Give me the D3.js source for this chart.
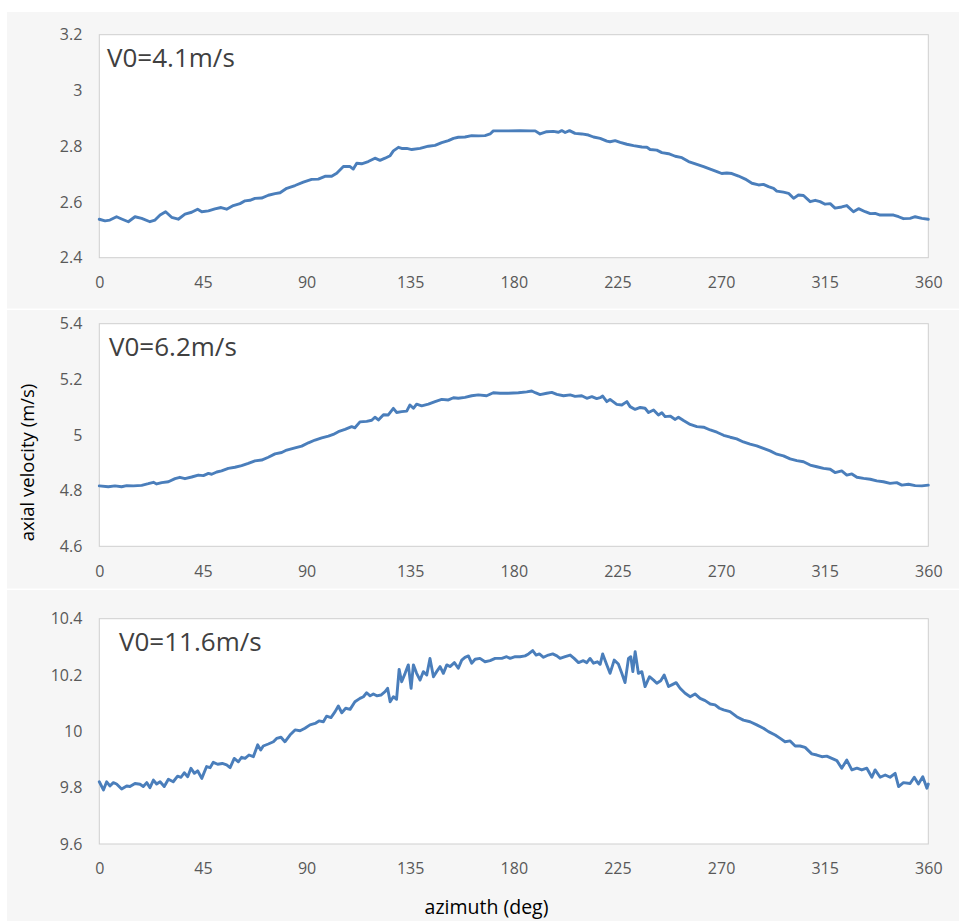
<!DOCTYPE html>
<html>
<head>
<meta charset="utf-8">
<script src="https://cdn.jsdelivr.net/npm/d3@7"></script>
<style>
  html, body { margin: 0; padding: 0; background: #ffffff; }
  svg { display: block; }
</style>
</head>
<body>
<svg id="chart" width="959" height="921"></svg>
<script>
// ---------------- data ----------------
const xTicks = [0, 45, 90, 135, 180, 225, 270, 315, 360];
const yTicks1 = [2.4, 2.6, 2.8, 3.0, 3.2];
const yTicks2 = [4.6, 4.8, 5.0, 5.2, 5.4];
const yTicks3 = [9.6, 9.8, 10.0, 10.2, 10.4];
const labels = ["V0=4.1m/s", "V0=6.2m/s", "V0=11.6m/s"];
const xTitle = "azimuth (deg)";
const yTitle = "axial velocity (m/s)";

// [azimuth (deg), axial velocity (m/s)]
const series1 = [[0,2.538],[2.5,2.532],[4.6,2.535],[7.5,2.547],[9.7,2.539],[12.6,2.529],[15.5,2.547],[18.4,2.541],[22,2.529],[24.2,2.535],[26.4,2.553],[28.8,2.565],[31.4,2.545],[34.3,2.538],[37.2,2.556],[40.1,2.563],[42.7,2.574],[44.5,2.565],[47.4,2.568],[50.2,2.575],[52.9,2.58],[55.3,2.574],[58.2,2.587],[61.1,2.594],[63.3,2.604],[65.4,2.606],[67.6,2.613],[70.5,2.614],[73.4,2.624],[76.3,2.63],[78.5,2.633],[81.4,2.649],[85,2.659],[88.6,2.671],[92.2,2.681],[95.1,2.682],[98,2.692],[100.9,2.692],[103.1,2.703],[106,2.727],[108.9,2.727],[110.3,2.718],[111.8,2.739],[113.9,2.737],[116.8,2.745],[119.7,2.757],[121.9,2.749],[124.1,2.757],[126.3,2.766],[127.7,2.783],[129.9,2.796],[131.3,2.792],[133.5,2.792],[135.7,2.788],[139.3,2.792],[142.9,2.8],[145.8,2.803],[148.7,2.813],[151.6,2.82],[153.8,2.828],[155.9,2.832],[158.8,2.833],[161.7,2.838],[164.6,2.837],[167.5,2.838],[169.7,2.844],[171.1,2.855],[174,2.855],[177.6,2.855],[182.7,2.856],[187.1,2.855],[189.3,2.855],[191.4,2.844],[194.3,2.852],[197.2,2.853],[199.4,2.85],[200.8,2.856],[202.3,2.849],[204.2,2.856],[206.6,2.846],[209.5,2.844],[212.4,2.84],[214.6,2.833],[217.5,2.828],[220.4,2.818],[221.8,2.816],[224,2.82],[226.2,2.814],[229.1,2.807],[232,2.802],[235.6,2.797],[237.8,2.796],[239.2,2.788],[242.1,2.786],[244.3,2.777],[247.2,2.773],[250.1,2.764],[253,2.759],[255.9,2.745],[259.5,2.735],[262.4,2.727],[265.3,2.718],[268.2,2.709],[270.3,2.702],[272.5,2.704],[274.7,2.702],[277.6,2.693],[280.5,2.682],[283.4,2.667],[286.3,2.661],[288.4,2.663],[290.6,2.655],[292.8,2.649],[294.2,2.639],[297.1,2.635],[299.3,2.631],[301.5,2.613],[303.6,2.625],[305.8,2.623],[308.7,2.601],[310.9,2.606],[313,2.601],[315.2,2.592],[317.4,2.594],[319.5,2.578],[322.4,2.582],[324.6,2.587],[327.5,2.565],[329.7,2.576],[332.6,2.565],[334.8,2.558],[336.9,2.559],[339.1,2.553],[342,2.553],[344.9,2.553],[347.1,2.547],[349.2,2.54],[352.1,2.541],[354.3,2.547],[357.2,2.541],[360,2.538]];

const series2 = [[0,4.817],[3.9,4.814],[6.8,4.817],[9.7,4.814],[11.9,4.818],[14.8,4.817],[18.4,4.819],[21.3,4.825],[23.5,4.83],[24.9,4.824],[27.1,4.829],[30,4.832],[32.9,4.843],[35,4.848],[37.2,4.843],[40.1,4.849],[43,4.856],[45.2,4.854],[47.4,4.862],[48.8,4.859],[51,4.867],[53.1,4.871],[56,4.88],[58.9,4.884],[61.8,4.89],[64.7,4.898],[67.6,4.907],[70.5,4.91],[73.4,4.92],[76.3,4.932],[79.2,4.937],[81.4,4.946],[85,4.954],[87.9,4.96],[90.8,4.972],[93.7,4.982],[96.6,4.99],[99.5,4.996],[101.6,5.002],[103.8,5.012],[106.7,5.02],[109.6,5.03],[111,5.026],[113.2,5.047],[116.1,5.049],[118.3,5.053],[119.7,5.064],[121.2,5.054],[123.4,5.073],[125.5,5.072],[127.7,5.096],[129.1,5.081],[131.3,5.084],[133.5,5.086],[134.9,5.108],[136.4,5.096],[137.8,5.111],[140,5.105],[142.9,5.111],[145.8,5.12],[148.7,5.128],[151.6,5.126],[153.8,5.134],[155.9,5.132],[158.8,5.135],[161.7,5.141],[164.6,5.144],[168.2,5.141],[171.1,5.152],[174,5.15],[177.6,5.15],[182,5.152],[185.6,5.155],[187.8,5.158],[189.3,5.152],[191.4,5.145],[194.3,5.15],[196.5,5.153],[198.7,5.146],[201.6,5.141],[204.5,5.144],[206.6,5.139],[209.5,5.141],[211.7,5.132],[213.9,5.138],[216,5.131],[217.5,5.134],[218.6,5.14],[220.4,5.12],[221.8,5.128],[224.7,5.11],[226.9,5.108],[229.1,5.12],[230.5,5.102],[232.7,5.092],[234.9,5.099],[237,5.096],[238.5,5.081],[240.7,5.09],[242.8,5.072],[244.3,5.08],[245.7,5.066],[247.9,5.068],[250.1,5.056],[251.5,5.064],[253.7,5.052],[256.6,5.038],[259.5,5.03],[262.4,5.028],[265.3,5.018],[268.2,5.01],[271.1,4.999],[274,4.992],[276.8,4.986],[279.7,4.975],[282.6,4.967],[285.5,4.961],[288.4,4.952],[291.3,4.943],[294.2,4.931],[297.1,4.925],[300,4.914],[302.9,4.908],[305.8,4.904],[308.7,4.892],[311.6,4.886],[314.5,4.88],[317.4,4.877],[319.5,4.865],[322.4,4.871],[324.6,4.856],[326.8,4.86],[329,4.848],[331.9,4.844],[334.8,4.841],[337.6,4.835],[340.5,4.832],[343.4,4.826],[346.3,4.829],[348.5,4.82],[351.4,4.823],[354.3,4.818],[357.2,4.817],[360,4.82]];

const series3 = [[0,9.821],[1.8,9.792],[3.2,9.821],[4.6,9.806],[6.1,9.818],[7.5,9.813],[9.7,9.795],[11.9,9.806],[13.3,9.804],[15.5,9.815],[17.7,9.812],[19.1,9.804],[20.6,9.818],[22,9.8],[23.5,9.827],[24.9,9.813],[26.4,9.821],[28.2,9.804],[30,9.83],[32.1,9.821],[34,9.841],[35.5,9.837],[36.9,9.853],[38.4,9.839],[39.8,9.869],[41.3,9.851],[42.7,9.86],[44.5,9.833],[46.6,9.875],[48.1,9.871],[49.5,9.89],[51.4,9.883],[53.4,9.886],[55.3,9.881],[56.8,9.871],[58.6,9.904],[60.4,9.892],[61.8,9.908],[63.3,9.904],[65,9.916],[66.9,9.91],[68.8,9.952],[70.1,9.934],[71.2,9.948],[73.4,9.955],[75.6,9.963],[77,9.975],[78.9,9.979],[80.6,9.963],[82.8,9.987],[85,10.005],[87.2,10.002],[89.3,10.011],[91.5,10.023],[93.7,10.028],[95.4,10.037],[97.3,10.034],[98.7,10.054],[100.6,10.049],[102.4,10.07],[103.8,10.09],[105.3,10.066],[107,10.082],[108.9,10.078],[111,10.105],[113.2,10.117],[114.7,10.123],[116.1,10.137],[117.6,10.126],[119,10.133],[120.5,10.126],[122.3,10.129],[124.1,10.141],[125.2,10.153],[126.3,10.105],[127.7,10.123],[129.1,10.114],[130.2,10.22],[131.3,10.176],[132.8,10.206],[134.2,10.236],[135.4,10.153],[136.4,10.236],[137.8,10.206],[139.3,10.182],[140.7,10.212],[142.2,10.2],[143.6,10.259],[145.1,10.194],[146.5,10.212],[148,10.23],[149.4,10.206],[150.9,10.236],[152.3,10.23],[154.2,10.244],[155.9,10.224],[157.4,10.253],[158.8,10.263],[160.3,10.268],[161.7,10.242],[163.2,10.256],[165.3,10.259],[167.5,10.247],[169.7,10.251],[171.9,10.259],[174.8,10.259],[176.9,10.265],[178.4,10.259],[180.6,10.265],[182.7,10.265],[184.9,10.268],[186.4,10.275],[188.2,10.287],[189.7,10.271],[191.1,10.275],[192.9,10.263],[195,10.271],[196.9,10.275],[198.7,10.268],[200.1,10.259],[202.3,10.265],[204.5,10.271],[206.2,10.259],[208.1,10.244],[210.2,10.251],[211.7,10.244],[213.1,10.259],[214.6,10.242],[216.3,10.247],[217.5,10.238],[218.6,10.275],[220.4,10.236],[221.8,10.206],[223.6,10.253],[225.4,10.239],[226.9,10.206],[228.3,10.173],[229.8,10.259],[230.8,10.265],[231.7,10.212],[232.7,10.283],[234.1,10.206],[235.6,10.212],[237,10.159],[238.9,10.194],[240.7,10.182],[242.1,10.171],[243.8,10.18],[245.3,10.2],[247.2,10.159],[248.6,10.165],[250.5,10.173],[252.2,10.153],[254.4,10.135],[256.6,10.123],[258.7,10.133],[260.9,10.117],[263.1,10.109],[265.3,10.097],[267.4,10.094],[269.3,10.082],[271.1,10.076],[273.9,10.07],[276.8,10.052],[279.7,10.04],[282.6,10.034],[285.5,10.023],[288.4,10.011],[290.6,9.999],[293.5,9.987],[295.7,9.975],[297.8,9.963],[300,9.966],[302.2,9.948],[304.3,9.948],[306.5,9.943],[309.4,9.92],[311.6,9.916],[313.8,9.91],[315.9,9.912],[318.1,9.904],[320.3,9.896],[322.4,9.869],[324.6,9.898],[326.8,9.863],[329,9.869],[331.1,9.863],[333.3,9.869],[335.5,9.837],[336.9,9.863],[339.1,9.837],[341.3,9.845],[343.4,9.837],[345.6,9.851],[347.1,9.804],[349.2,9.818],[352.1,9.815],[353.9,9.837],[355.7,9.813],[357.6,9.839],[359.4,9.798],[360,9.813]];

// ---------------- layout ----------------
const svg = d3.select("#chart");
const FONT = "'Open Sans', 'Noto Sans', sans-serif";
const LINE_COLOR = "#4a7ebb";
const TICK_COLOR = "#595959";

const panels = [
  { data: series1, ticks: yTicks1, label: labels[0], bg: [12, 308.5],  top: 34.7,  bottom: 257.7, lx: 107, ly: 66.7 },
  { data: series2, ticks: yTicks2, label: labels[1], bg: [310, 588.5], top: 323.7, bottom: 546.3, lx: 109, ly: 356 },
  { data: series3, ticks: yTicks3, label: labels[2], bg: [590, 921], top: 618.7, bottom: 844,   lx: 119, ly: 651 }
];
const plotLeft = 99.3, plotRight = 928.3;

const x = d3.scaleLinear().domain([0, 360]).range([plotLeft, plotRight]);
const fmt = d => String(+(+d).toFixed(1));

panels.forEach(p => {
  // chart area background
  svg.append("rect")
    .attr("x", 7).attr("y", p.bg[0])
    .attr("width", 959 - 7).attr("height", p.bg[1] - p.bg[0])
    .attr("fill", "#f6f6f6");

  const y = d3.scaleLinear().domain([p.ticks[0], p.ticks[p.ticks.length - 1]]).range([p.bottom, p.top]);

  // plot area
  svg.append("rect")
    .attr("x", plotLeft).attr("y", p.top)
    .attr("width", plotRight - plotLeft).attr("height", p.bottom - p.top)
    .attr("fill", "#ffffff")
    .attr("stroke", "#cfcfcf").attr("stroke-width", 1);

  // y axis
  const ya = svg.append("g")
    .attr("transform", `translate(${plotLeft},0)`)
    .call(d3.axisLeft(y).tickValues(p.ticks).tickFormat(fmt).tickSize(0).tickPadding(17));
  ya.select(".domain").remove();
  ya.selectAll("text").attr("font-family", FONT).attr("font-size", 16).attr("fill", TICK_COLOR);

  // x axis
  const xa = svg.append("g")
    .attr("transform", `translate(0,${p.bottom})`)
    .call(d3.axisBottom(x).tickValues(xTicks).tickFormat(fmt).tickSize(0).tickPadding(19));
  xa.select(".domain").remove();
  xa.selectAll("text").attr("font-family", FONT).attr("font-size", 16).attr("fill", TICK_COLOR);

  // series line
  const line = d3.line().x(d => x(d[0])).y(d => y(d[1]));
  svg.append("path")
    .datum(p.data)
    .attr("d", line)
    .attr("fill", "none")
    .attr("stroke", LINE_COLOR)
    .attr("stroke-width", 2.9)
    .attr("stroke-linejoin", "round")
    .attr("stroke-linecap", "round");

  // annotation
  svg.append("text")
    .attr("x", p.lx).attr("y", p.ly)
    .attr("font-family", FONT).attr("font-size", 26)
    .attr("fill", "#404040")
    .text(p.label);
});

// axis titles
svg.append("text")
  .attr("transform", "translate(34,462.5) rotate(-90)")
  .attr("text-anchor", "middle")
  .attr("font-family", FONT).attr("font-size", 18.5)
  .attr("fill", "#000000")
  .text(yTitle);

svg.append("text")
  .attr("x", 486.5).attr("y", 913.5)
  .attr("text-anchor", "middle")
  .attr("font-family", FONT).attr("font-size", 19.5)
  .attr("fill", "#000000")
  .text(xTitle);
</script>
</body>
</html>
